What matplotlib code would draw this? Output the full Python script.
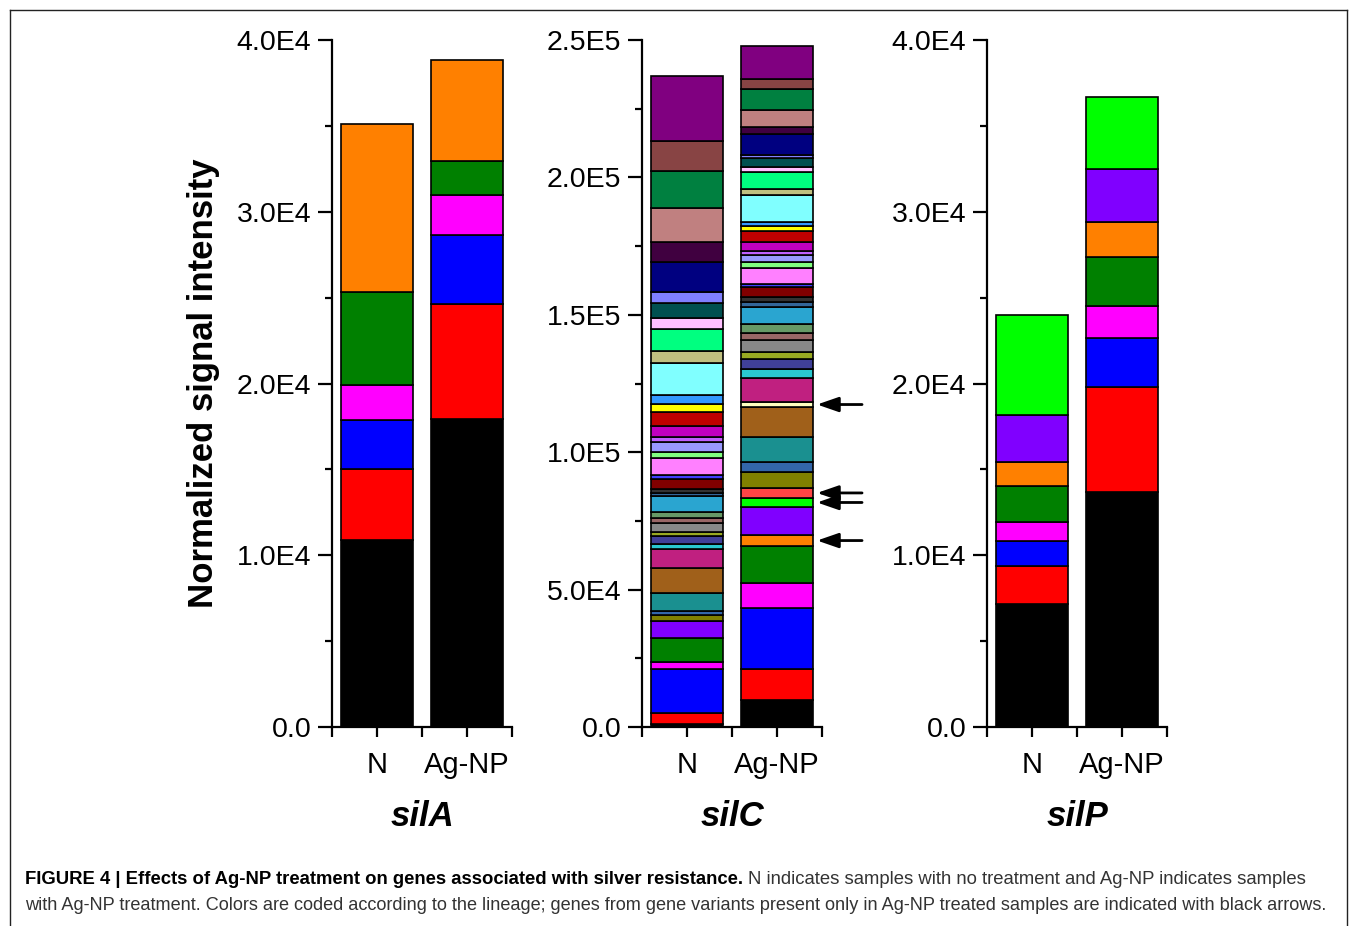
import numpy as np
import matplotlib
matplotlib.use("Agg")
import matplotlib.pyplot as plt
from matplotlib.lines import Line2D
from matplotlib.ticker import FuncFormatter, FixedLocator

plt.rcParams['font.family'] = ['Liberation Sans', 'DejaVu Sans']

groups = ["N", "Ag-NP"]
genes = ["silA", "silC", "silP"]

# lineage colours
COLORS = {
    "black": "#000000", "red": "#ff0000", "blue": "#0000ff", "magenta": "#ff00ff",
    "green": "#008000", "orange": "#ff8000", "violet": "#8000ff", "lime": "#00ff00",
    "salmon": "#ff4545", "olive": "#808000", "dkblue": "#3366aa", "teal": "#1a9090",
    "brown": "#a0601a", "lightyellow": "#ffffc0", "rose": "#c02080", "turquoise": "#2ac8d0",
    "slate": "#404099", "oliveyellow": "#99aa22", "gray": "#888888", "rosybrown": "#996666",
    "sage": "#669966", "cerulean": "#2aa5d0", "darksteel": "#336699", "darkgray": "#333333",
    "maroon": "#800000", "royalblue": "#4040ff", "lightmagenta": "#ff80ff", "lightgreen": "#80ff80",
    "lavender": "#9999ff", "orchid": "#c060ff", "purplemagenta": "#c000c0", "darkred": "#c00000",
    "yellow": "#ffff00", "dodger": "#3399ff", "lightcyan": "#80ffff", "khaki": "#c0c080",
    "springgreen": "#00ff80", "lightpink": "#ffc0ff", "darkteal": "#005050", "periwinkle": "#8080ff",
    "navy": "#000080", "darkpurple": "#400040", "pinkbrown": "#c08080", "seagreen": "#008040",
    "brownred": "#884444", "purple": "#800080",
}

# silA (stack order bottom -> top)
silA_lineages = ["black", "red", "blue", "magenta", "green", "orange"]
silA_N = [10900, 4100, 2850, 2050, 5450, 9750]
silA_AgNP = [17950, 6650, 4050, 2350, 1950, 5900]

# silP
silP_lineages = ["black", "red", "blue", "magenta", "green", "orange", "violet", "lime"]
silP_N = [7150, 2200, 1500, 1100, 2100, 1400, 2700, 5850]
silP_AgNP = [13700, 6100, 2850, 1850, 2850, 2050, 3100, 4200]

# silC
silC_lineages_N = [
    "black", "red", "blue", "magenta", "green", "violet", "olive", "dkblue", "teal", "brown",
    "rose", "turquoise", "slate", "oliveyellow", "gray", "rosybrown", "sage", "cerulean",
    "darksteel", "darkgray", "maroon", "royalblue", "lightmagenta", "lightgreen", "lavender",
    "orchid", "purplemagenta", "darkred", "yellow", "dodger", "lightcyan", "khaki",
    "springgreen", "lightpink", "darkteal", "periwinkle", "navy", "darkpurple", "pinkbrown",
    "seagreen", "brownred", "purple",
]
silC_N = [
    1100, 4000, 16000, 2550, 8750, 6200, 2200, 1450, 6550, 9100,
    6900, 1800, 2900, 1450, 3300, 1800, 2200, 5800,
    1100, 1450, 3650, 1450, 6200, 2200, 3650,
    1800, 4000, 5100, 2900, 3300, 11650, 4350,
    8000, 4000, 5450, 4000, 10900, 7300, 12350,
    13450, 10900, 23650,
]
silC_lineages_AgNP = [
    "black", "red", "blue", "magenta", "green", "orange", "violet", "lime", "salmon", "olive",
    "dkblue", "teal", "brown", "lightyellow", "rose", "turquoise", "slate", "oliveyellow",
    "gray", "rosybrown", "sage", "cerulean", "darksteel", "darkgray", "maroon", "royalblue",
    "lightmagenta", "lightgreen", "lavender", "orchid", "purplemagenta", "darkred", "yellow",
    "dodger", "lightcyan", "khaki", "springgreen", "lightpink", "darkteal", "periwinkle",
    "navy", "darkpurple", "pinkbrown", "seagreen", "brownred", "purple",
]
silC_AgNP = [
    9800, 11300, 22200, 9100, 13450, 4000, 10200, 3300, 3650, 5800,
    3650, 9100, 10900, 1800, 8750, 3300, 3650, 2550,
    4350, 2550, 3300, 6200, 1800, 1800, 3650, 1100,
    5800, 2200, 2550, 1450, 3300, 4000, 1800,
    1450, 9800, 2200, 6200, 1800, 3300, 1100,
    7650, 2550, 6200, 7650, 3650, 12000,
]
# variants present only in Ag-NP treated samples
silC_AgNP_only = ["lightyellow", "salmon", "lime", "orange"]

panels = [
    ("silA", [(silA_lineages, silA_N), (silA_lineages, silA_AgNP)], 4.0e4, 1.0e4),
    ("silC", [(silC_lineages_N, silC_N), (silC_lineages_AgNP, silC_AgNP)], 2.5e5, 5.0e4),
    ("silP", [(silP_lineages, silP_N), (silP_lineages, silP_AgNP)], 4.0e4, 1.0e4),
]


def sci_fmt(v, pos):
    if abs(v) < 1e-6:
        return "0.0"
    if v < 0:
        return ""
    e = int(np.floor(np.log10(v) + 1e-9))
    m = v / 10 ** e
    return f"{m:.1f}E{e}"


W, H = 1357, 926
fig = plt.figure(figsize=(W / 100, H / 100), dpi=100)

ax_left_px = [332, 642, 987]
ax_w_px = 180
ax_bottom_px, ax_top_px = 727, 40

bar_w = 0.8
xpos = [1, 2]
for (gene, stacks, ymax, major), lpx in zip(panels, ax_left_px):
    ax = fig.add_axes([lpx / W, (H - ax_bottom_px) / H, ax_w_px / W,
                       (ax_bottom_px - ax_top_px) / H])
    stacked = []
    for x, (lins, vals) in zip(xpos, stacks):
        vals = np.asarray(vals, dtype=float)
        bottoms = np.concatenate([[0], np.cumsum(vals)[:-1]])
        ax.bar([x] * len(vals), vals, bottom=bottoms, width=bar_w,
               color=[COLORS[c] for c in lins], edgecolor="black", linewidth=1.2,
               zorder=2)
        stacked.append((lins, vals, bottoms))
    ax.set_xlim(0.5, 2.5)
    ax.set_ylim(0, ymax)
    for s in ("top", "right"):
        ax.spines[s].set_visible(False)
    for s in ("left", "bottom"):
        ax.spines[s].set_linewidth(1.6)
    ax.yaxis.set_major_locator(FixedLocator(np.arange(0, ymax + 1, major)))
    ax.yaxis.set_minor_locator(FixedLocator(np.arange(major / 2, ymax, major)))
    ax.yaxis.set_major_formatter(FuncFormatter(sci_fmt))
    ax.xaxis.set_major_locator(FixedLocator(xpos))
    ax.xaxis.set_minor_locator(FixedLocator([0.5, 1.5, 2.5]))
    ax.set_xticklabels(groups)
    ax.tick_params(axis="y", which="major", direction="out", length=10, width=1.6,
                   labelsize=20.5, pad=5)
    ax.tick_params(axis="y", which="minor", direction="out", length=5, width=1.6)
    ax.tick_params(axis="x", which="both", direction="out", length=7, width=1.6,
                   labelsize=21, pad=10)
    ax.text(0.5, -0.131, gene, transform=ax.transAxes, ha="center", va="center",
            fontsize=25, fontweight="bold", fontstyle="italic")

    if gene == "silC":
        lins, vals, bottoms = stacked[1]
        for name in silC_AgNP_only:
            i = lins.index(name)
            yc = bottoms[i] + vals[i] / 2
            ax.annotate("", xy=(2.445, yc), xytext=(2.945, yc),
                        arrowprops=dict(arrowstyle="-|>,head_length=1.3,head_width=0.45",
                                        color="black", lw=2, shrinkA=0, shrinkB=0),
                        annotation_clip=False)

fig.text(203 / W, 1 - 383 / H, "Normalized signal intensity", rotation=90,
         ha="center", va="center", fontsize=25, fontweight="bold")

# frame around the figure
frame_kw = dict(color="#222222", lw=1.0, transform=fig.transFigure)
fig.add_artist(Line2D([10 / W, 10 / W], [-0.01, 1 - 10 / H], **frame_kw))
fig.add_artist(Line2D([10 / W, 1347 / W], [1 - 10 / H, 1 - 10 / H], **frame_kw))
fig.add_artist(Line2D([1347 / W, 1347 / W], [-0.01, 1 - 10 / H], **frame_kw))

# caption
cap_size = 13.35
cap_x = 25 / W
t1 = fig.text(cap_x, 1 - 880 / H,
              "FIGURE 4 | Effects of Ag-NP treatment on genes associated with silver resistance.",
              fontsize=cap_size, fontweight="bold", ha="left", va="center", color="black")
fig.canvas.draw()
bb = t1.get_window_extent(fig.canvas.get_renderer())
fig.text(bb.x1 / W + 5 / W, 1 - 880 / H,
         "N indicates samples with no treatment and Ag-NP indicates samples",
         fontsize=cap_size, ha="left", va="center", color="#333333")
fig.text(cap_x, 1 - 905 / H,
         "with Ag-NP treatment. Colors are coded according to the lineage; genes from gene "
         "variants present only in Ag-NP treated samples are indicated with black arrows.",
         fontsize=13.1, ha="left", va="center", color="#333333")

fig.savefig("out.png", dpi=100)
